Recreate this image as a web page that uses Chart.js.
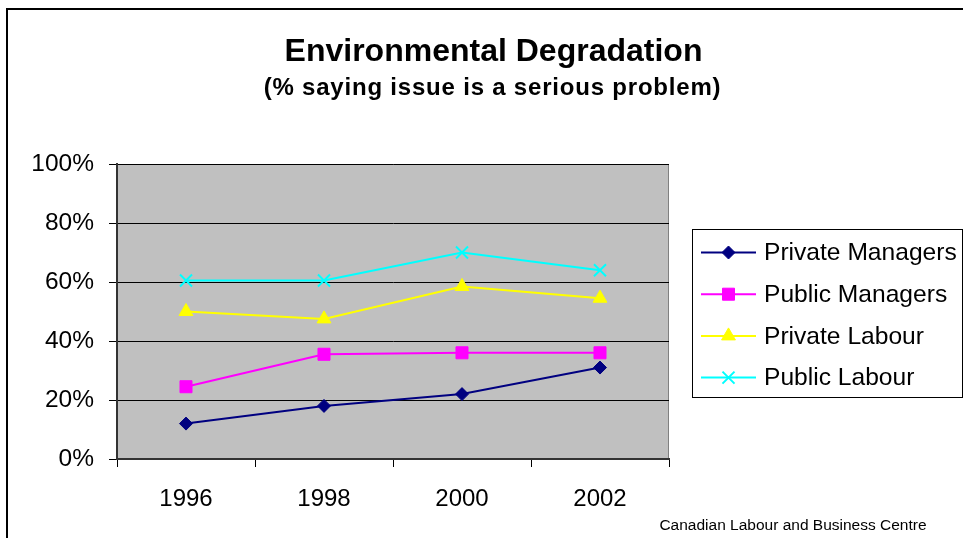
<!DOCTYPE html>
<html>
<head>
<meta charset="utf-8">
<script src="https://cdn.jsdelivr.net/npm/chart.js@4/dist/chart.umd.min.js"></script>
<style>
    body { margin: 0; background: #fff; font-family: "Liberation Sans", Arial, sans-serif; }
    #wrap { position: relative; width: 963px; height: 538px; overflow: hidden; }
    #frame { position: absolute; left: 6px; top: 8px; width: 1000px; height: 600px;
             border-left: 2px solid #000; border-top: 2px solid #000; }
    canvas { position: absolute; left: 0; top: 0; }
    .txt { position: absolute; white-space: nowrap; text-align: center; color: #000; }
    #title { left: 0; width: 987px; top: 34px; font-size: 32px; line-height: 32px; font-weight: bold; }
    #subtitle { left: 0; width: 985px; top: 75px; font-size: 24px; line-height: 24px; font-weight: bold; letter-spacing: 0.8px; }
    #source { left: 593px; width: 400px; top: 517px; font-size: 15.5px; line-height: 15px; }
</style>
</head>
<body>
<div id="wrap">
    <div id="frame"></div>
    <canvas id="chart" width="963" height="538"></canvas>
    <div class="txt" id="title">Environmental Degradation</div>
    <div class="txt" id="subtitle">(% saying issue is a serious problem)</div>
    <div class="txt" id="source">Canadian Labour and Business Centre</div>
</div>
<script>
// 資料
const years = ['1996', '1998', '2000', '2002'];
const privateManagers = [12, 18, 22, 31];
const publicManagers = [24.5, 35.5, 36, 36];
const privateLabour = [50, 47.5, 58.5, 54.5];
const publicLabour = [60.5, 60.5, 70, 64];
const seriesNames = ['Private Managers', 'Public Managers', 'Private Labour', 'Public Labour'];
const yMin = 0, yMax = 100, yStep = 20;

const FONT = '"Liberation Sans", Arial, sans-serif';

function makeSeries(label, data, color, style, radius, bw) {
    return {
        label: label,
        data: data,
        borderColor: color,
        backgroundColor: color,
        borderWidth: 2,
        pointStyle: style,
        pointRadius: radius,
        pointBackgroundColor: color,
        pointBorderColor: color,
        pointBorderWidth: bw,
        tension: 0,
        fill: false
    };
}

const datasets = [
    makeSeries(seriesNames[0], privateManagers, '#000080', 'rectRot', 6.5, 1),
    makeSeries(seriesNames[1], publicManagers, '#ff00ff', 'rect', 8.5, 1),
    makeSeries(seriesNames[2], privateLabour, '#ffff00', 'triangle', 8, 1),
    makeSeries(seriesNames[3], publicLabour, '#00ffff', 'crossRot', 8.5, 2)
];

// 灰色繪圖區背景
const plotBackground = {
    id: 'plotBackground',
    beforeDraw(chart) {
        const a = chart.chartArea;
        const ctx = chart.ctx;
        ctx.save();
        ctx.fillStyle = '#c0c0c0';
        ctx.fillRect(a.left, a.top, a.right - a.left, a.bottom - a.top);
        ctx.strokeStyle = '#808080';
        ctx.lineWidth = 1;
        ctx.beginPath();
        ctx.moveTo(a.left, a.top + 0.5);
        ctx.lineTo(a.right - 0.5, a.top + 0.5);
        ctx.lineTo(a.right - 0.5, a.bottom);
        ctx.stroke();
        ctx.restore();
    }
};

// 帶框圖例
const boxLegend = {
    id: 'boxLegend',
    afterDraw(chart) {
        const ctx = chart.ctx;
        const box = { x: 692.5, y: 229.5, w: 270, h: 168 };
        ctx.save();
        ctx.strokeStyle = '#000';
        ctx.lineWidth = 1;
        ctx.strokeRect(box.x, box.y, box.w, box.h);
        ctx.font = '24.6px ' + FONT;
        ctx.textBaseline = 'middle';
        ctx.textAlign = 'left';
        chart.data.datasets.forEach((ds, i) => {
            const y = 252.5 + i * 41.7;
            ctx.strokeStyle = ds.borderColor;
            ctx.fillStyle = ds.borderColor;
            ctx.lineWidth = 2;
            ctx.beginPath();
            ctx.moveTo(701, y);
            ctx.lineTo(756, y);
            ctx.stroke();
            ctx.lineWidth = ds.pointBorderWidth;
            Chart.helpers.drawPoint(ctx, {
                pointStyle: ds.pointStyle,
                radius: ds.pointRadius,
                rotation: 0,
                borderWidth: ds.pointBorderWidth
            }, 728.5, y);
            ctx.fillStyle = '#000';
            ctx.fillText(ds.label, 764, y + 1);
        });
        ctx.restore();
    }
};

new Chart(document.getElementById('chart'), {
    type: 'line',
    data: { labels: years, datasets: datasets },
    options: {
        responsive: false,
        animation: false,
        devicePixelRatio: 1,
        layout: { padding: { top: 164, right: 294, left: 0, bottom: 0 } },
        plugins: {
            legend: { display: false },
            tooltip: { enabled: false },
            title: { display: false }
        },
        scales: {
            x: {
                offset: true,
                grid: { offset: true, drawOnChartArea: false, color: '#000', tickLength: 8, lineWidth: 1 },
                border: { color: '#333', width: 2 },
                ticks: { color: '#000', font: { family: FONT, size: 24 }, padding: 18, maxRotation: 0 },
                afterFit(scale) { scale.height = 79; }
            },
            y: {
                min: yMin,
                max: yMax,
                grid: { color: '#000', tickLength: 8, lineWidth: 1 },
                border: { color: '#333', width: 2 },
                ticks: {
                    stepSize: yStep,
                    color: '#000',
                    font: { family: FONT, size: 24.5 },
                    padding: 15,
                    callback: v => v + '%'
                },
                afterFit(scale) { scale.width = 117; }
            }
        }
    },
    plugins: [plotBackground, boxLegend]
});
</script>
</body>
</html>
